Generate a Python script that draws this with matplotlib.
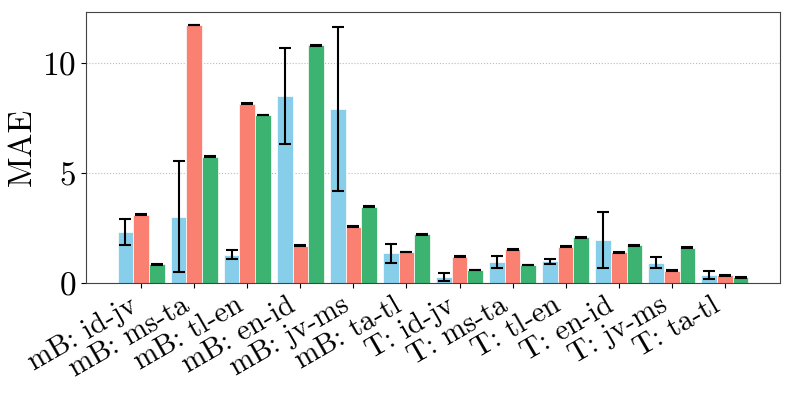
import matplotlib
matplotlib.use("Agg")
import matplotlib.pyplot as plt
import numpy as np

categories = ["mB: id-jv", "mB: ms-ta", "mB: tl-en", "mB: en-id", "mB: jv-ms", "mB: ta-tl",
              "T: id-jv", "T: ms-ta", "T: tl-en", "T: en-id", "T: jv-ms", "T: ta-tl"]
blue_vals = [2.32, 2.99, 1.26, 8.49, 7.91, 1.33, 0.25, 0.94, 0.97, 1.94, 0.91, 0.33]
blue_err = [0.59, 2.53, 0.20, 2.18, 3.72, 0.42, 0.19, 0.27, 0.11, 1.26, 0.24, 0.19]
red_vals = [3.08, 11.73, 8.14, 1.68, 2.55, 1.39, 1.18, 1.52, 1.63, 1.38, 0.53, 0.33]
red_err = [0.02] * 12
green_vals = [0.84, 5.74, 7.63, 10.80, 3.45, 2.20, 0.57, 0.80, 2.06, 1.70, 1.59, 0.24]
green_err = [0.02] * 12

plt.rcParams['font.family'] = 'serif'
plt.rcParams['font.serif'] = ['cmr10']
plt.rcParams['mathtext.fontset'] = 'cm'
plt.rcParams['axes.unicode_minus'] = False
plt.rcParams['axes.formatter.use_mathtext'] = True

fig = plt.figure(figsize=(7.93, 3.97), dpi=100)
ax = fig.add_axes([86/793, 1 - 282.5/397, (780 - 86)/793, (282.5 - 11.7)/397])

x = np.arange(len(categories))
w = 0.3
ekw = dict(ecolor='black', elinewidth=1.5, capthick=1.5)
ax.bar(x - w, blue_vals, w, yerr=blue_err, capsize=4, color='skyblue',
       edgecolor='white', linewidth=0.5, error_kw=ekw, zorder=2)
ax.bar(x, red_vals, w, yerr=red_err, capsize=4, color='salmon',
       edgecolor='white', linewidth=0.5, error_kw=ekw, zorder=2)
ax.bar(x + w, green_vals, w, yerr=green_err, capsize=4, color='mediumseagreen',
       edgecolor='white', linewidth=0.5, error_kw=ekw, zorder=2)

ax.set_xticks(x)
ax.set_xticklabels(categories, rotation=30, ha='right', fontsize=21)
ax.tick_params(axis='y', labelsize=24)
ax.set_ylabel('MAE', fontsize=24)
ax.set_yticks([0, 5, 10])
ax.yaxis.grid(True, linestyle=':', color='#bbbbbb', linewidth=0.8, zorder=0)
ax.set_axisbelow(True)
for s in ax.spines.values():
    s.set_color('#444444')

fig.savefig('out.png', dpi=100)
